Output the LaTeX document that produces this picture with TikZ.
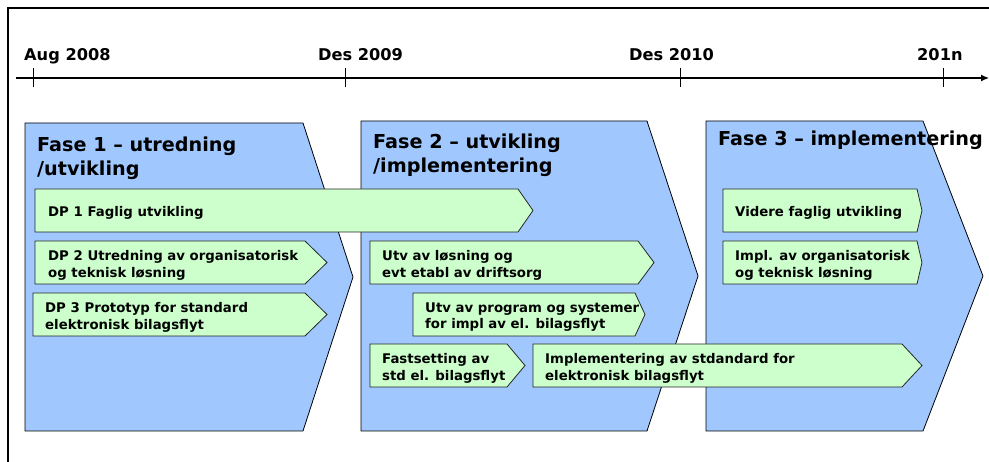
\documentclass[tikz,border=0pt]{standalone}
\usepackage{fontspec}
\setmainfont{DejaVu Sans}
\usepackage{tikz}
\usetikzlibrary{arrows.meta}

\definecolor{faseblue}{RGB}{160,200,255}
\definecolor{dpgreen}{RGB}{204,255,204}

\tikzset{
    fase/.style={draw=black, fill=faseblue, line width=0.8pt},
    dp/.style={draw=black!85, fill=dpgreen, line width=0.8pt},
    head/.style={anchor=base west, inner sep=0pt, align=left, font=\fontsize{19.2}{24.5}\selectfont\bfseries},
    dptext/.style={anchor=west, inner sep=0pt, yshift=-2.5pt, align=left, font=\fontsize{13.3}{16.8}\selectfont\bfseries},
    datelbl/.style={anchor=base west, inner sep=0pt, font=\fontsize{16.2}{19}\selectfont\bfseries}
}

\begin{document}
\begin{tikzpicture}[x=1pt,y=-1pt]
    \useasboundingbox (0,0) rectangle (989,462);
    \draw [line width=1.2pt] (8,462) -- (8,8) -- (989,8);

    % time line
    \draw [line width=1.2pt, -{Latex[length=8pt,width=7pt]}] (16,78) -- (989,78);
    \draw [line width=1pt] (33,68) -- (33,87);
    \draw [line width=1pt] (345,68) -- (345,87);
    \draw [line width=1pt] (680,68) -- (680,87);
    \draw [line width=1pt] (943,68) -- (943,87);
    \node (aug08) [datelbl] at (24,61) {Aug 2008};
    \node (des09) [datelbl] at (318,61) {Des 2009};
    \node (des10) [datelbl] at (629,61) {Des 2010};
    \node (yr201n) [datelbl] at (917,61) {201n};

    % faser
    \draw [fase] (25,123) -- (303,123) -- (353,277) -- (303,431) -- (25,431) -- cycle;
    \draw [fase] (361,121) -- (647,121) -- (698,276) -- (647,431) -- (361,431) -- cycle;
    \draw [fase] (706,121) -- (923,121) -- (983,276) -- (923,431) -- (706,431) -- cycle;
    \node (fase1) [head] at (37,176) {Fase 1 – utredning\\/utvikling};
    \node (fase2) [head] at (373,173) {Fase 2 – utvikling\\/implementering};
    \node (fase3) [head] at (718,146) {Fase 3 – implementering};

    % delprosjekter fase 1
    \draw [dp] (35,189) -- (518,189) -- (533,210.5) -- (518,232) -- (35,232) -- cycle;
    \node (dp1) [dptext] at (48,210.5) {DP 1 Faglig utvikling};
    \draw [dp] (35,241) -- (305,241) -- (327,262.5) -- (305,284) -- (35,284) -- cycle;
    \node (dp2) [dptext] at (48,262.5) {DP 2 Utredning av organisatorisk\\og teknisk løsning};
    \draw [dp] (33,293) -- (305,293) -- (327,314.5) -- (305,336) -- (33,336) -- cycle;
    \node (dp3) [dptext] at (45,314.5) {DP 3 Prototyp for standard\\elektronisk bilagsflyt};

    % fase 2
    \draw [dp] (370,241) -- (638,241) -- (654,262.5) -- (638,284) -- (370,284) -- cycle;
    \node (utvlos) [dptext] at (382,262.5) {Utv av løsning og\\evt etabl av driftsorg};
    \draw [dp] (413,293) -- (635,293) -- (645,314.5) -- (635,336) -- (413,336) -- cycle;
    \node (utvprog) [dptext] at (425,314.5) {Utv av program og systemer\\for impl av el. bilagsflyt};
    \draw [dp] (370,344) -- (507,344) -- (525,365.5) -- (507,387) -- (370,387) -- cycle;
    \node (fastset) [dptext] at (382,365.5) {Fastsetting av\\std el. bilagsflyt};
    \draw [dp] (533,344) -- (902,344) -- (922,365.5) -- (902,387) -- (533,387) -- cycle;
    \node (implstd) [dptext] at (545,365.5) {Implementering av stdandard for\\elektronisk bilagsflyt};

    % fase 3
    \draw [dp] (723,189) -- (917,189) -- (922,210.5) -- (917,232) -- (723,232) -- cycle;
    \node (videre) [dptext] at (735,210.5) {Videre faglig utvikling};
    \draw [dp] (723,241) -- (917,241) -- (922,262.5) -- (917,284) -- (723,284) -- cycle;
    \node (implorg) [dptext] at (735,262.5) {Impl. av organisatorisk\\og teknisk løsning};
\end{tikzpicture}
\end{document}
